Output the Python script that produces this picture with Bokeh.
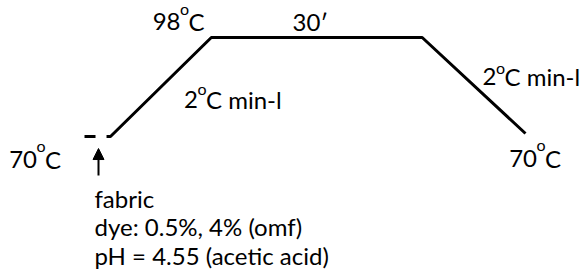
from bokeh.plotting import figure
from bokeh.models import Label, Arrow, NormalHead, Range1d
from bokeh.embed import file_html
from bokeh.resources import INLINE

# Temperature profile (time in min, temperature in °C)
profile_time = [-0.56, 0.0, 14.2, 43.9, 58.45]
profile_temp = [70.0, 70.0, 98.0, 98.0, 70.85]
# initial short dash at 70 °C
dash_time = [-3.66, -2.11]
dash_temp = [70.0, 70.0]
# arrow marking fabric entry
arrow_time = [-1.69, -1.69]
arrow_temp = [58.97, 66.6]

FONT = "Lato"
SIZE = "24px"
SUP = "16px"
DY = 7  # baseline correction

W, H = 580, 273
p = figure(width=W, height=H, output_backend="svg", toolbar_location=None,
           x_range=Range1d(-15.493, 66.197), y_range=Range1d(31.253, 108.465),
           min_border=0, min_border_left=0, min_border_right=0,
           min_border_top=0, min_border_bottom=0)
p.axis.visible = False
p.grid.visible = False
p.outline_line_color = None
p.background_fill_color = "white"
p.border_fill_color = "white"

p.line(profile_time, profile_temp, line_width=3, line_color="black")
p.line(dash_time, dash_temp, line_width=3, line_color="black")
p.add_layout(Arrow(end=NormalHead(size=11, fill_color="black", line_color="black", line_width=1),
                   x_start=arrow_time[0], y_start=arrow_temp[0],
                   x_end=arrow_time[1], y_end=arrow_temp[1],
                   line_width=2, line_color="black"))

def lab(text, px, py, size=SIZE, align="left"):
    p.add_layout(Label(x=px, y=H - (py - DY), x_units="screen", y_units="screen",
                       text=text, text_font=FONT, text_font_size=size,
                       text_color="black", text_align=align,
                       text_baseline="alphabetic"))

def deg(num, rest, xr, base, obase):
    lab(num, xr, base, align="right")
    lab("o", xr - 0.5, obase, size=SUP)
    lab(rest, xr + 8, base)

deg("98", "C", 180, 28, 15)
lab("30\u2032", 292, 28)
deg("2", "C min-l", 197.5, 106, 95)
deg("2", "C min-l", 496, 83, 74)
deg("70", "C", 36.5, 166, 152)
deg("70", "C", 536.5, 164.5, 151)
lab("fabric", 94, 205)
lab("dye: 0.5%, 4% (omf)", 94, 233)
lab("pH = 4.55 (acetic acid)", 94, 262)

open("out.html", "w").write(file_html(p, INLINE))
